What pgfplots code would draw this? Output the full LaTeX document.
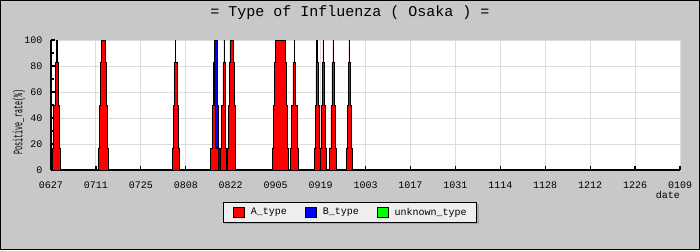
\documentclass[border=0pt]{standalone}
\usepackage{pgfplots}
\pgfplotsset{compat=1.18}
\usepackage{fontspec}
\setmainfont{Liberation Mono}
\newfontfamily\narrowmono[FakeStretch=0.52]{Liberation Mono}
\definecolor{bg}{HTML}{C8C8C8}
\definecolor{gridc}{HTML}{DCDCDC}
\definecolor{legbg}{HTML}{EEEEEE}
\definecolor{shadowc}{HTML}{A8A8A8}
\pgfplotsset{areaA/.style={fill=red, draw=black, line width=0.8pt, forget plot}}
\begin{document}
\begin{tikzpicture}[x=1pt,y=1pt]
\useasboundingbox (0,0) rectangle (700,250);
\fill[bg] (0,0) rectangle (700,250);
\draw[black, line width=1pt] (0.5,0.5) rectangle (699.5,249.5);
\node[font=\fontsize{15}{18}\selectfont] at (350,237) {= Type of Influenza ( Osaka ) =};
\begin{axis}[
  at={(51pt,80pt)}, anchor=south west,
  width=629pt, height=130pt, scale only axis,
  axis background/.style={fill=white},
  xmin=0, xmax=196, ymin=0, ymax=100,
  axis x line*=bottom, axis y line*=left,
  axis line style={line width=1.5pt, -},
  xtick={0,14,...,196},
  xticklabels={0627,0711,0725,0808,0822,0905,0919,1003,1017,1031,1114,1128,1212,1226,0109},
  ytick={0,20,...,100},
  minor y tick num=1,
  tick align=inside,
  major tick length=4pt, minor tick length=3pt,
  tick style={black, line width=1.2pt},
  grid=major, major grid style={gridc, line width=1pt},
  ticklabel style={font=\fontsize{10}{12}\selectfont},
  xticklabel style={yshift=-8.5pt},
  yticklabel style={xshift=-5pt},
  /pgf/number format/assume math mode=true,
  xlabel={date},
  xlabel style={at={(axis description cs:1,0)}, anchor=north east, yshift=-21.5pt, inner sep=0pt, font=\fontsize{10}{12}\selectfont},
  ylabel={Positive\_rate(\%)},
  ylabel style={at={(axis description cs:-0.0509,0.369)}, anchor=center, inner sep=0pt, font=\narrowmono\fontsize{13}{15}\selectfont},
]
% A_type
\addplot[areaA] coordinates {(0.4,0)(0.4,17)(0.83,17)(0.83,50)(1.27,50)(1.27,83)(1.7,83)(1.7,100)(1.9,100)(1.9,83)(2.27,83)(2.27,50)(2.63,50)(2.63,17)(3.0,17)(3.0,0)} \closedcycle;
\addplot[areaA] coordinates {(14.7,0)(14.7,17)(15.03,17)(15.03,50)(15.37,50)(15.37,83)(15.7,83)(15.7,100)(17.0,100)(17.0,83)(17.27,83)(17.27,50)(17.53,50)(17.53,17)(17.8,17)(17.8,0)} \closedcycle;
\addplot[areaA] coordinates {(37.8,0)(37.8,17)(38.1,17)(38.1,50)(38.4,50)(38.4,83)(38.7,83)(38.7,100)(38.9,100)(38.9,83)(39.27,83)(39.27,50)(39.63,50)(39.63,17)(40.0,17)(40.0,0)} \closedcycle;
\addplot[areaA] coordinates {(49.8,0)(49.8,17)(50.17,17)(50.17,50)(50.53,50)(50.53,83)(50.9,83)(50.9,100)(51.1,100)(51.1,83)(51.53,83)(51.53,50)(51.97,50)(51.97,17)(52.4,17)(52.4,0)} \closedcycle;
\addplot[areaA] coordinates {(52.9,0)(52.9,17)(53.23,17)(53.23,50)(53.57,50)(53.57,83)(53.9,83)(53.9,100)(54.0,100)(54.0,83)(54.23,83)(54.23,50)(54.47,50)(54.47,17)(54.7,17)(54.7,0)} \closedcycle;
\addplot[areaA] coordinates {(55.0,0)(55.0,17)(55.25,17)(55.25,50)(55.5,50)(55.5,83)(55.75,83)(55.75,100)(56.9,100)(56.9,83)(57.13,83)(57.13,50)(57.37,50)(57.37,17)(57.6,17)(57.6,0)} \closedcycle;
\addplot[areaA] coordinates {(69.0,0)(69.0,17)(69.3,17)(69.3,50)(69.6,50)(69.6,83)(69.9,83)(69.9,100)(73.0,100)(73.0,83)(73.3,83)(73.3,50)(73.6,50)(73.6,17)(73.9,17)(73.9,0)} \closedcycle;
\addplot[areaA] coordinates {(74.7,0)(74.7,17)(75.05,17)(75.05,50)(75.4,50)(75.4,83)(75.75,83)(75.75,100)(75.85,100)(75.85,83)(76.27,83)(76.27,50)(76.68,50)(76.68,17)(77.1,17)(77.1,0)} \closedcycle;
\addplot[areaA] coordinates {(82.0,0)(82.0,17)(82.28,17)(82.28,50)(82.57,50)(82.57,83)(82.85,83)(82.85,100)(82.95,100)(82.95,83)(83.23,83)(83.23,50)(83.52,50)(83.52,17)(83.8,17)(83.8,0)} \closedcycle;
\addplot[areaA] coordinates {(83.9,0)(83.9,17)(84.18,17)(84.18,50)(84.47,50)(84.47,83)(84.75,83)(84.75,100)(84.85,100)(84.85,83)(85.13,83)(85.13,50)(85.42,50)(85.42,17)(85.7,17)(85.7,0)} \closedcycle;
\addplot[areaA] coordinates {(86.9,0)(86.9,17)(87.22,17)(87.22,50)(87.53,50)(87.53,83)(87.85,83)(87.85,100)(87.95,100)(87.95,83)(88.27,83)(88.27,50)(88.58,50)(88.58,17)(88.9,17)(88.9,0)} \closedcycle;
\addplot[areaA] coordinates {(92.0,0)(92.0,17)(92.28,17)(92.28,50)(92.57,50)(92.57,83)(92.85,83)(92.85,100)(92.95,100)(92.95,83)(93.3,83)(93.3,50)(93.65,50)(93.65,17)(94.0,17)(94.0,0)} \closedcycle;
% B_type
\addplot[fill=blue, draw=black, line width=0.8pt, forget plot] coordinates {(52.3,0)(52.3,17)(51.25,17)(51.25,50)(51.05,50)(51.05,83)(50.95,83)(50.95,100)(51.85,100)(51.85,83)(51.95,83)(51.95,50)(52.15,50)(52.15,17)(52.75,17)(52.75,0)} \closedcycle;
\end{axis}
% legend
\fill[shadowc] (225.3,25.7) rectangle (478.7,45.7);
\draw[fill=legbg, line width=1pt] (223.3,27.7) rectangle (476.7,47.7);
\draw[fill=red, line width=0.8pt] (233.3,32.3) rectangle (244,42.7);
\node[anchor=west, inner sep=0pt, font=\fontsize{10}{12}\selectfont] at (250.7,37.5) {A\_type};
\draw[fill=blue, line width=0.8pt] (305.3,32.3) rectangle (316,42.7);
\node[anchor=west, inner sep=0pt, font=\fontsize{10}{12}\selectfont] at (322.7,37.5) {B\_type};
\draw[fill=green, line width=0.8pt] (377.7,32.3) rectangle (388.3,42.7);
\node[anchor=west, inner sep=0pt, font=\fontsize{10}{12}\selectfont] at (394.3,37.5) {unknown\_type};
\end{tikzpicture}
\end{document}
